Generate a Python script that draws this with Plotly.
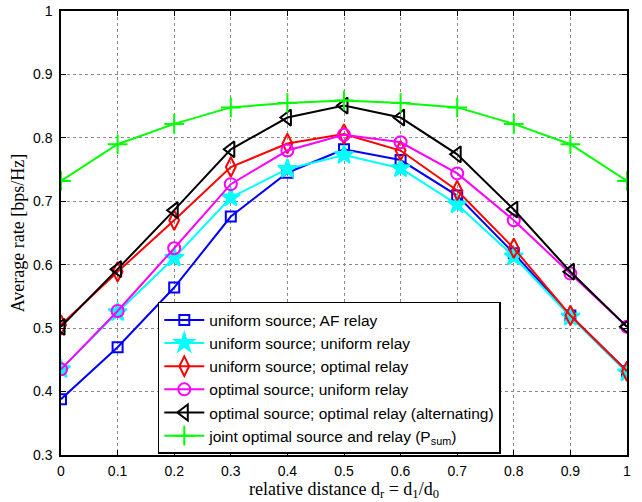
import plotly.graph_objects as go

x = [0, 0.1, 0.2, 0.3, 0.4, 0.5, 0.6, 0.7, 0.8, 0.9, 1.0]
x_labels = ["0", "0.1", "0.2", "0.3", "0.4", "0.5", "0.6", "0.7", "0.8", "0.9", "1"]
y_ticks = [0.3, 0.4, 0.5, 0.6, 0.7, 0.8, 0.9, 1.0]
y_labels = ["0.3", "0.4", "0.5", "0.6", "0.7", "0.8", "0.9", "1"]

names = [
    "uniform source; AF relay",
    "uniform source; uniform relay",
    "uniform source; optimal relay",
    "optimal source; uniform relay",
    "optimal source; optimal relay (alternating)",
    "joint optimal source and relay (P<sub>sum</sub>)",
]

af_uniform = [0.388, 0.470, 0.564, 0.676, 0.745, 0.782, 0.765, 0.709, 0.618, 0.520, 0.432]
uni_uni = [0.435, 0.525, 0.611, 0.706, 0.751, 0.773, 0.752, 0.695, 0.613, 0.518, 0.430]
uni_opt = [0.505, 0.589, 0.670, 0.754, 0.791, 0.806, 0.780, 0.717, 0.626, 0.520, 0.432]
opt_uni = [0.435, 0.527, 0.626, 0.727, 0.780, 0.805, 0.793, 0.744, 0.670, 0.586, 0.502]
opt_opt = [0.502, 0.593, 0.686, 0.782, 0.832, 0.851, 0.832, 0.774, 0.687, 0.589, 0.502]
joint = [0.732, 0.790, 0.822, 0.848, 0.855, 0.859, 0.855, 0.848, 0.822, 0.790, 0.732]

series = [af_uniform, uni_uni, uni_opt, opt_uni, opt_opt, joint]
colors = ["#0000ff", "#00ffff", "#ff0000", "#ff00ff", "#000000", "#00ff00"]
symbols = ["square-open", "star", "diamond-tall-open", "circle-open", "triangle-left-open", "cross-thin-open"]
sizes = [10, 14, 14, 12, 14, 14]

fig = go.Figure()
for name, ys, c, s, sz in zip(names, series, colors, symbols, sizes):
    fig.add_trace(go.Scatter(
        x=x, y=ys, name=name, mode="lines+markers",
        line=dict(color=c, width=2),
        marker=dict(symbol=s, size=sz, color=c, line=dict(color=c, width=2)),
    ))

axis_common = dict(
    showline=True, linecolor="black", linewidth=1.5, mirror="ticks",
    ticks="inside", ticklen=5, tickcolor="black", tickwidth=1,
    showgrid=True, gridcolor="#8a8a8a", griddash="dot", gridwidth=1,
    zeroline=False, automargin=False, ticklabeloverflow="allow",
    tickfont=dict(family="Liberation Sans, Arial", size=14, color="black"),
)

fig.update_xaxes(
    range=[0, 1], tickvals=x, ticktext=x_labels, ticklabelstandoff=2,
    title=dict(text="relative distance d<sub>r</sub> = d<sub>1</sub>/d<sub>0</sub>",
               font=dict(family="Liberation Serif, Times New Roman", size=18, color="black"), standoff=1),
    **axis_common,
)
fig.update_yaxes(
    range=[0.3, 1], tickvals=y_ticks, ticktext=y_labels, ticklabelstandoff=4,
    title=dict(text="Average rate [bps/Hz]",
               font=dict(family="Liberation Serif, Times New Roman", size=18, color="black"), standoff=4),
    **axis_common,
)

fig.update_layout(
    width=642, height=502,
    margin=dict(l=61, r=15, t=11, b=47),
    paper_bgcolor="white", plot_bgcolor="white",
    showlegend=True,
    legend=dict(
        x=0.171, y=0.345, xanchor="left", yanchor="top",
        bgcolor="white", bordercolor="black", borderwidth=1.5,
        font=dict(family="Liberation Sans, Arial", size=15.5, color="black"),
        tracegroupgap=0, itemwidth=40,
    ),
)

fig.write_html(
    "out.html",
    config={"displayModeBar": False},
    post_script="document.body.style.margin='0px';document.body.style.overflow='hidden';",
)
